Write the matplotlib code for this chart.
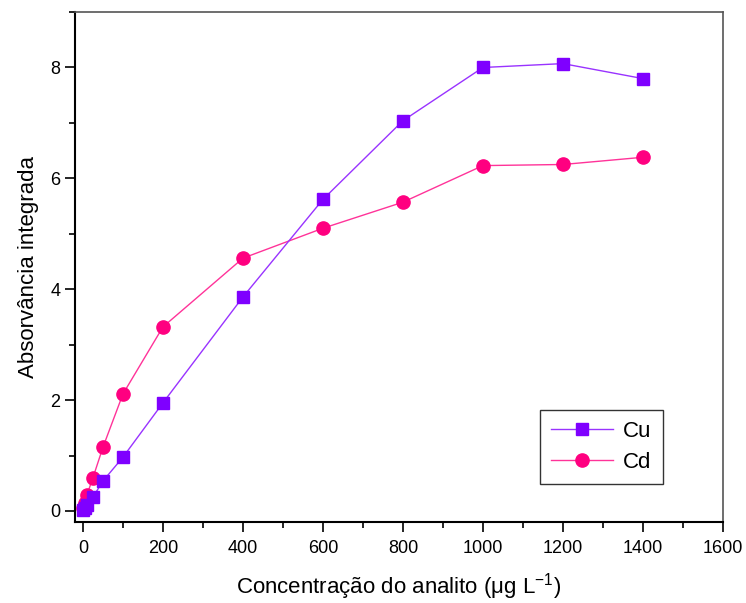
import matplotlib
matplotlib.use("Agg")
import matplotlib.pyplot as plt
from matplotlib.ticker import MultipleLocator

plt.rcParams['font.family'] = ['Liberation Sans', 'DejaVu Sans']
plt.rcParams['mathtext.fontset'] = 'custom'
plt.rcParams['mathtext.rm'] = 'Liberation Sans'
plt.rcParams['mathtext.it'] = 'Liberation Sans:italic'

conc = [1, 5, 10, 25, 50, 100, 200, 400, 600, 800, 1000, 1200, 1400]
cu = [0.02, 0.05, 0.10, 0.25, 0.54, 0.97, 1.95, 3.86, 5.62, 7.04, 8.00, 8.07, 7.80]
cd = [0.05, 0.14, 0.29, 0.60, 1.15, 2.11, 3.32, 4.56, 5.10, 5.57, 6.23, 6.25, 6.38]

fig = plt.figure(figsize=(7.46, 6.03), dpi=100)
ax = fig.add_axes([0.1005, 0.1343, 0.8685, 0.8457])

ax.plot(conc, cd, color='#FF3399', lw=1, marker='o', ms=9.5,
        mfc='#FF0080', mec='#FF0080', label='Cd', zorder=3)
ax.plot(conc, cu, color='#9933FF', lw=1, marker='s', ms=8,
        mfc='#7F00FF', mec='#7F00FF', label='Cu', zorder=4)

ax.set_xlim(-20, 1600)
ax.set_ylim(-0.2, 9.0)
ax.xaxis.set_major_locator(MultipleLocator(200))
ax.xaxis.set_minor_locator(MultipleLocator(100))
ax.yaxis.set_major_locator(MultipleLocator(2))
ax.yaxis.set_minor_locator(MultipleLocator(1))
ax.tick_params(which='major', direction='out', length=7, width=1.2, labelsize=13)
ax.tick_params(axis='x', which='major', pad=6)
ax.tick_params(which='minor', direction='out', length=4, width=1.2)

for s in ['left', 'bottom']:
    ax.spines[s].set_linewidth(1.5)
    ax.spines[s].set_color('black')
for s in ['top', 'right']:
    ax.spines[s].set_linewidth(1.2)
    ax.spines[s].set_color('#555555')

ax.set_xlabel('Concentração do analito (\u03bcg L$^{\\mathregular{-1}}$)', fontsize=16, labelpad=10)
ax.set_ylabel('Absorvância integrada', fontsize=16, labelpad=8)

handles, labels = ax.get_legend_handles_labels()
leg = ax.legend(handles[::-1], labels[::-1], loc='lower right',
                bbox_to_anchor=(0.907, 0.0745), fontsize=16, frameon=True,
                fancybox=False, edgecolor='black', borderpad=0.5,
                handlelength=2.8, handletextpad=0.45, labelspacing=0.45,
                borderaxespad=0)
leg.get_frame().set_linewidth(1.0)

fig.savefig('out.png', dpi=100)
